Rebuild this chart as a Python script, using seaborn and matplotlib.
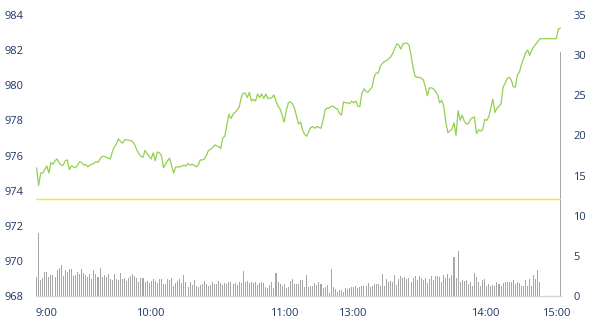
import matplotlib
matplotlib.use("Agg")
import matplotlib.pyplot as plt
import seaborn as sns
import numpy as np
import pandas as pd

# ---- data -------------------------------------------------------------
price = [
    975.3, 974.3, 975.0, 975.0, 975.2, 975.4, 975.0, 975.6, 975.5, 975.7, 975.8,
    975.6, 975.45, 975.45, 975.7, 975.75, 975.2, 975.4, 975.35, 975.3, 975.45,
    975.65, 975.6, 975.45, 975.5, 975.35, 975.45, 975.5, 975.55, 975.65, 975.6,
    975.8, 975.95, 975.95, 975.9, 975.85, 975.8, 976.2, 976.5, 976.65, 976.95,
    976.8, 976.7, 976.9, 976.9, 976.88, 976.85, 976.78, 976.6, 976.3, 976.1,
    975.95, 975.9, 976.3, 976.1, 975.95, 975.8, 976.15, 975.7, 976.2, 976.15,
    976.0, 975.3, 975.5, 975.7, 975.85, 975.4, 975.0, 975.35, 975.35, 975.35,
    975.4, 975.45, 975.4, 975.55, 975.45, 975.5, 975.45, 975.35, 975.45, 975.75,
    975.75, 975.8, 976.0, 976.3, 976.35, 976.45, 976.6, 976.55, 976.5, 976.4,
    977.0, 977.1, 977.75, 978.35, 978.1, 978.35, 978.45, 978.6, 978.75, 979.3,
    979.55, 979.55, 979.3, 979.6, 979.1, 979.2, 979.1, 979.5, 979.3, 979.5,
    979.25, 979.5, 979.25, 979.25, 979.3, 979.45, 979.1, 978.8, 978.65, 978.3,
    977.9, 978.55, 979.0, 979.05, 978.95, 978.7, 978.25, 977.8, 977.9, 977.45,
    977.2, 977.1, 977.35, 977.6, 977.65, 977.55, 977.65, 977.6, 977.55, 978.0,
    978.6, 978.7, 978.7, 978.8, 978.8, 978.7, 978.65, 978.4, 978.3, 979.05,
    979.0, 979.0, 978.95, 979.1, 979.0, 979.1, 978.8, 978.8, 979.55, 979.8,
    979.65, 979.6, 979.75, 979.9, 980.5, 980.7, 980.7, 981.1, 981.25, 981.35,
    981.4, 981.5, 981.6, 981.8, 982.1, 982.35, 982.3, 982.05, 982.35, 982.4,
    982.4, 982.3, 981.7, 981.0, 980.5, 980.45, 980.45, 980.4, 980.3, 979.9,
    979.4, 979.85, 979.85, 979.8, 979.65, 979.45, 979.0, 979.15, 978.8, 977.9,
    977.3, 977.4, 977.5, 977.85, 977.15, 978.55, 978.0, 978.3, 977.95, 977.8,
    977.8, 978.05, 978.15, 978.2, 977.25, 977.45, 977.4, 977.45, 978.05, 978.0,
    978.2, 978.7, 979.2, 978.45, 978.7, 978.8, 978.95, 979.9, 980.1, 980.4,
    980.45, 980.3, 979.9, 979.9, 980.6, 980.75, 981.2, 981.5, 981.85, 982.0,
    981.7, 982.0, 982.2, 982.35, 982.5, 982.65,
    982.65, 982.65, 982.65, 982.65, 982.65, 982.65, 982.65, 982.65,
    983.2, 983.25,
]

volume = [
    2.4, 7.9, 2.0, 2.3, 3.0, 3.0, 2.4, 2.6, 2.6, 2.4,
    3.2, 3.5, 3.8, 2.5, 3.3, 3.0, 3.4, 3.4, 2.5, 2.6,
    3.0, 2.8, 3.4, 2.9, 2.6, 2.4, 2.8, 2.1, 3.2, 2.8,
    2.4, 3.5, 2.4, 2.6, 2.4, 2.8, 2.1, 2.0, 2.8, 2.1,
    2.0, 2.9, 2.1, 2.3, 1.9, 2.3, 2.5, 2.8, 2.5, 2.3,
    1.8, 2.3, 2.3, 1.8, 1.9, 1.6, 1.9, 2.1, 1.9, 1.6,
    2.1, 2.1, 1.5, 1.5, 2.1, 2.0, 2.3, 1.2, 1.6, 1.9,
    2.1, 1.6, 2.6, 1.8, 1.1, 1.8, 1.4, 2.0, 1.2, 1.1,
    1.4, 1.5, 1.9, 1.5, 1.2, 1.4, 1.8, 1.5, 1.5, 1.9,
    1.6, 1.4, 1.6, 1.5, 1.7, 1.8, 1.5, 1.6, 1.4, 1.7,
    1.6, 3.1, 1.8, 1.9, 1.6, 1.7, 1.6, 1.7, 1.4, 1.6,
    1.8, 1.6, 1.1, 1.0, 1.4, 1.8, 1.0, 2.9, 1.8, 1.5,
    1.2, 1.5, 1.0, 1.1, 1.9, 2.1, 1.5, 1.5, 1.5, 2.0,
    2.0, 1.1, 2.6, 1.1, 1.3, 1.2, 1.6, 1.4, 1.8, 1.5,
    1.0, 1.1, 1.4, 0.4, 3.4, 1.1, 0.9, 0.5, 0.8, 0.8,
    0.5, 1.0, 0.9, 1.0, 1.1, 1.1, 1.3, 1.0, 1.1, 1.3,
    1.3, 1.2, 1.6, 1.1, 1.3, 1.5, 1.5, 1.5, 1.2, 2.7,
    1.3, 2.1, 1.8, 1.9, 1.8, 2.6, 1.4, 2.1, 2.5, 2.2,
    2.4, 2.1, 2.3, 1.7, 2.2, 2.5, 2.0, 2.5, 2.3, 2.0,
    2.2, 1.6, 2.1, 2.5, 2.0, 2.5, 2.5, 2.4, 1.8, 2.6,
    2.2, 2.7, 2.3, 2.6, 4.9, 2.3, 5.6, 1.8, 2.0, 1.9,
    2.0, 1.5, 1.7, 1.2, 2.9, 2.4, 1.7, 1.3, 2.0, 2.1,
    1.2, 1.5, 1.3, 1.4, 1.2, 1.7, 1.5, 1.3, 1.6, 1.7,
    1.7, 1.7, 1.8, 2.0, 1.5, 1.8, 1.6, 1.3, 1.2, 2.0,
    1.3, 2.1, 1.2, 2.6, 2.1, 3.2, 1.8,
    0, 0, 0, 0, 0, 0, 0, 0, 0,
    30.4,
]

time_labels = ["9:00", "10:00", "11:00", "13:00", "14:00", "15:00"]
time_pos = [5, 55.5, 121, 154.5, 219.5, 254]

price_ticks = [968, 970, 972, 974, 976, 978, 980, 982, 984]
volume_ticks = [0, 5, 10, 15, 20, 25, 30, 35]
divider_level = 973.5

# ---- styling ----------------------------------------------------------
sns.set_style("white")
plt.rcParams["font.family"] = ["Open Sans", "DejaVu Sans"]
label_color = "#1f3864"

fig = plt.figure(figsize=(5.97, 3.30), dpi=100)
ax = fig.add_axes([36 / 597, 34 / 330, 525 / 597, 281 / 330])
ax2 = ax.twinx()
ax.set_zorder(2)
ax.patch.set_visible(False)

df_p = pd.DataFrame({"idx": np.arange(len(price)), "price": price})
df_v = pd.DataFrame({"idx": np.arange(len(volume)), "vol": volume})

ax2.bar(df_v["idx"], df_v["vol"], width=0.5, color="#a6a6a6", linewidth=0)
sns.lineplot(data=df_p, x="idx", y="price", ax=ax, color="#92d050",
             linewidth=0.9)
ax.axhline(divider_level, color="#f5ea1e", linewidth=1.0)

ax.set_xlim(-0.3, len(price) - 0.7)
ax.set_ylim(968, 984)
ax2.set_ylim(0, 35)
ax.set_yticks(price_ticks)
ax2.set_yticks(volume_ticks)
ax.set_xticks(time_pos)
ax.set_xticklabels(time_labels)

for a in (ax, ax2):
    for s in a.spines.values():
        s.set_visible(False)
    a.set_xlabel("")
    a.set_ylabel("")
ax.spines["bottom"].set_visible(True)
ax.spines["bottom"].set_color("#d9d9d9")
ax.spines["bottom"].set_linewidth(1.0)

ax.tick_params(axis="y", length=0, pad=9, labelsize=8, labelcolor=label_color)
ax2.tick_params(axis="y", length=0, pad=9, labelsize=8, labelcolor=label_color)
ax.tick_params(axis="x", length=0, pad=9, labelsize=8, labelcolor=label_color)
ax.grid(False)
ax2.grid(False)

fig.savefig("out.png", dpi=100)
